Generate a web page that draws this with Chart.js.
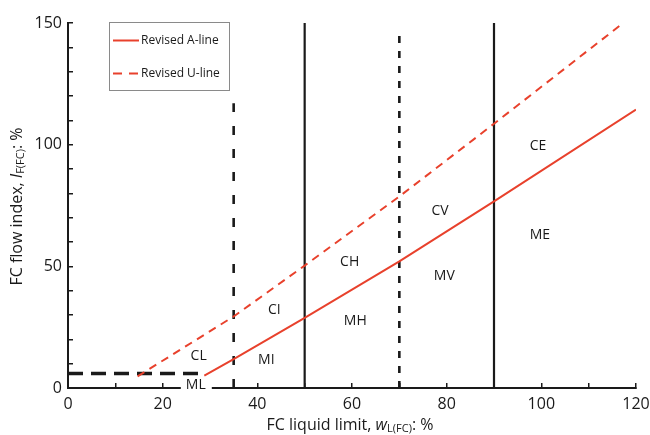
<!DOCTYPE html>
<html>
<head>
<meta charset="utf-8">
<title>Plasticity chart, fall cone</title>
<script src="https://cdn.jsdelivr.net/npm/chart.js@4.4.1/dist/chart.umd.min.js"></script>
<style>
    html, body { margin: 0; padding: 0; background: #fff; }
    #wrap { width: 650px; height: 435px; }
</style>
</head>
<body>
<div id="wrap"><canvas id="chart" width="650" height="435"></canvas></div>
<script>
'use strict';

// 
// Values
//

const aLineX = [28.8, 35, 50, 70, 90, 120];
const aLineY = [5.1, 11.9, 28.8, 52.0, 76.7, 114.4];

const uLineX = [14.7, 35, 50, 70, 90, 117.3];
const uLineY = [4.8, 29.4, 50.3, 78.7, 108.6, 150];

// horizontal dashed boundary (CL / ML)
const lowLineX = [0, 27.6];
const lowLineY = [6, 6];

// vertical boundaries: liquid limit and height they reach
const dashedBoundX = [35, 70];
const dashedBoundTop = [117, 147.6];
const solidBoundX = [50, 90];
const solidBoundTop = [150, 150];

// zone labels (data units)
const zoneNames = ['CL', 'ML', 'MI', 'CI', 'CH', 'MH', 'MV', 'CV', 'ME', 'CE'];
const zoneX = [27.6, 27.0, 41.9, 43.6, 59.5, 60.7, 79.5, 78.6, 99.7, 99.3];
const zoneY = [13.0, 1.1, 11.6, 31.9, 51.6, 27.4, 46.2, 72.6, 63.0, 99.3];

const xMin = 0, xMax = 120, xStep = 10, xLabelEvery = 20;
const yMin = 0, yMax = 150, yStep = 10, yLabelEvery = 50;


const RED = '#e8412c';
const INK = '#1a1a1a';
const FONT = '"Open Sans", "Noto Sans", sans-serif';


function toPoints(xs, ys) {
    return xs.map((x, i) => ({ x: x, y: ys[i] }));
}

function verticalSet(x, top, dash) {
    return {
        label: '',
        data: toPoints([x, x], [0, top]),
        borderColor: INK,
        borderWidth: dash ? 2.6 : 2.2,
        borderDash: dash || [],
        legendSkip: true
    };
}


var datasets = [
    {
        label: 'Revised A-line',
        data: toPoints(aLineX, aLineY),
        borderColor: RED,
        borderWidth: 2
    },
    {
        label: 'Revised U-line',
        data: toPoints(uLineX, uLineY),
        borderColor: RED,
        borderWidth: 2,
        borderDash: [8, 6]
    },
    {
        label: '',
        data: toPoints(lowLineX, lowLineY),
        borderColor: INK,
        borderWidth: 3.5,
        borderDash: [15, 8],
        legendSkip: true
    },
    verticalSet(dashedBoundX[0], dashedBoundTop[0], [9, 14]),
    verticalSet(dashedBoundX[1], dashedBoundTop[1], [7, 8]),
    verticalSet(solidBoundX[0], solidBoundTop[0]),
    verticalSet(solidBoundX[1], solidBoundTop[1])
];


// draws a string made of pieces with their own font / baseline shift
function drawRich(ctx, pieces, x, y) {
    let total = 0;
    pieces.forEach((p) => {
        ctx.font = p.font;
        p.w = ctx.measureText(p.text).width;
        total += p.w;
    });
    let cx = x - total / 2;
    pieces.forEach((p) => {
        ctx.font = p.font;
        ctx.fillText(p.text, cx, y + (p.dy || 0));
        cx += p.w;
    });
}

function titlePieces(main, symbol, sub) {
    return [
        { text: main, font: '16px ' + FONT },
        { text: symbol, font: 'italic 16px ' + FONT },
        { text: sub, font: '11px ' + FONT, dy: 4 },
        { text: ': %', font: '16px ' + FONT }
    ];
}


const decorations = {
    id: 'decorations',
    afterDraw(chart) {
        const ctx = chart.ctx;
        const xs = chart.scales.x;
        const ys = chart.scales.y;

        ctx.save();

        // gap in the x axis behind "ML"
        let mlIndex = zoneNames.indexOf('ML');
        let mlX = xs.getPixelForValue(zoneX[mlIndex]);
        ctx.fillStyle = '#fff';
        ctx.fillRect(mlX - 15, ys.getPixelForValue(0) - 8, 31, 16);

        // zone labels
        ctx.fillStyle = INK;
        ctx.font = '14px ' + FONT;
        ctx.textAlign = 'center';
        ctx.textBaseline = 'middle';
        zoneNames.forEach((name, i) => {
            ctx.fillText(name, xs.getPixelForValue(zoneX[i]), ys.getPixelForValue(zoneY[i]));
        });

        // axis titles
        ctx.textAlign = 'left';
        ctx.textBaseline = 'middle';
        drawRich(ctx, titlePieces('FC liquid limit, ', 'w', 'L(FC)'), (chart.chartArea.left + chart.chartArea.right) / 2 - 2, 425);

        ctx.translate(17, (chart.chartArea.top + chart.chartArea.bottom) / 2 + 1);
        ctx.rotate(-Math.PI / 2);
        drawRich(ctx, titlePieces('FC flow index, ', 'I', 'F(FC)'), 0, 0);
        ctx.restore();

        // legend box
        ctx.save();
        ctx.strokeStyle = '#8a8a8a';
        ctx.lineWidth = 1;
        ctx.strokeRect(109.5, 22.5, 120, 68);
        ctx.font = '12px ' + FONT;
        ctx.textBaseline = 'middle';
        ctx.textAlign = 'left';
        let rowY = [40.5, 73.5];
        chart.data.datasets.filter((d) => !d.legendSkip).forEach((d, i) => {
            ctx.strokeStyle = d.borderColor;
            ctx.lineWidth = d.borderWidth;
            ctx.setLineDash(d.borderDash ? [9, 7] : []);
            ctx.beginPath();
            ctx.moveTo(113, rowY[i]);
            ctx.lineTo(139, rowY[i]);
            ctx.stroke();
            ctx.fillStyle = INK;
            ctx.fillText(d.label, 141, rowY[i]);
        });
        ctx.restore();
    }
};


function axisOptions(min, max, step, every, pad) {
    return {
        type: 'linear',
        min: min,
        max: max,
        border: { display: true, color: INK, width: 2 },
        grid: {
            drawOnChartArea: false,
            drawTicks: true,
            tickLength: -5,
            color: INK,
            lineWidth: 1.5
        },
        ticks: {
            stepSize: step,
            padding: pad,
            color: INK,
            font: { family: FONT, size: 16 },
            maxRotation: 0,
            autoSkip: false,
            callback: (v) => (v % every === 0 ? v : '')
        }
    };
}


var xOpts = axisOptions(xMin, xMax, xStep, xLabelEvery, 12);
xOpts.afterFit = (scale) => {
    scale.height = 47;
    scale.paddingRight = 14;
};

var yOpts = axisOptions(yMin, yMax, yStep, yLabelEvery, 11);
yOpts.afterFit = (scale) => { scale.width = 68; };


new Chart(document.getElementById('chart').getContext('2d'), {
    type: 'scatter',
    data: { datasets: datasets },
    options: {
        responsive: false,
        animation: false,
        events: [],
        layout: { padding: { top: 23, right: 0, left: 0, bottom: 0 } },
        elements: {
            point: { radius: 0 },
            line: { tension: 0, fill: false }
        },
        datasets: { scatter: { showLine: true } },
        plugins: { legend: false, tooltip: { enabled: false } },
        scales: { x: xOpts, y: yOpts }
    },
    plugins: [decorations]
});
</script>
</body>
</html>
